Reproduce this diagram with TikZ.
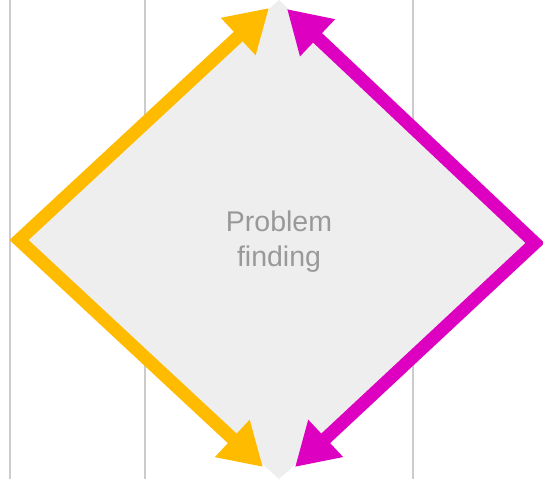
\documentclass[tikz,border=0pt]{standalone}
\usepackage{fontspec}
\setmainfont{Liberation Sans}
\usetikzlibrary{arrows.meta}
\definecolor{findgold}{HTML}{FFBB00}
\definecolor{findmagenta}{HTML}{DD00C0}
\definecolor{guidegray}{HTML}{CCCCCC}
\definecolor{diamondgray}{HTML}{EEEEEE}
\definecolor{labelgray}{HTML}{999999}
\tikzset{
  findarrow/.style={line width=13pt, line join=miter,
    {Triangle[length=42pt,width=48pt]}-{Triangle[length=42pt,width=48pt]}}
}

\begin{document}
\begin{tikzpicture}[x=1pt,y=-1pt]
\useasboundingbox (0,0) rectangle (543,479);
% guide lines behind the diamond
\foreach \x in {10,145,413}
  \draw[guidegray, line width=1.2pt] (\x,0) -- (\x,479);

% diamond
\coordinate (dtop) at (279,0);
\coordinate (dleft) at (14,240);
\coordinate (dright) at (540,242);
\coordinate (dbottom) at (279,479);
\fill[diamondgray] (dleft) -- (dtop) -- (dright) -- (dbottom) -- cycle;
\node[labelgray, font=\fontsize{28.5}{35}\selectfont, align=center] (label) at (279,242) {Problem\\finding};

% left side: diverging
\coordinate (goldtop) at (269,8);
\coordinate (goldleft) at (19,240);
\coordinate (goldbottom) at (263,467);
\draw[findgold, findarrow] (goldtop) -- (goldleft) -- (goldbottom);

% right side: converging
\coordinate (magtop) at (287,9);
\coordinate (magright) at (535,243);
\coordinate (magbottom) at (295,467);
\draw[findmagenta, findarrow] (magtop) -- (magright) -- (magbottom);
\end{tikzpicture}
\end{document}
